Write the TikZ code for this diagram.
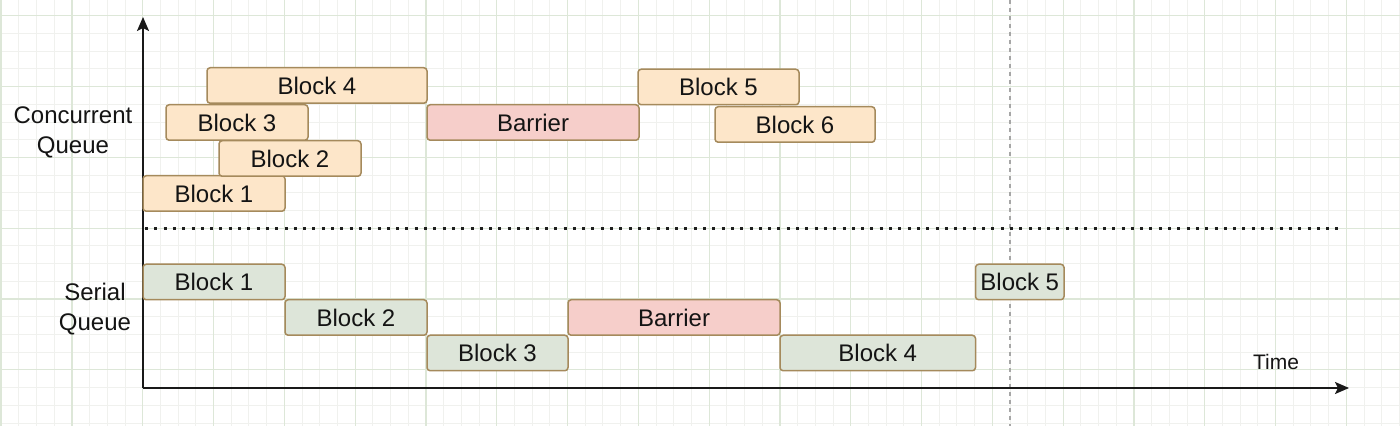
\documentclass[tikz,border=0pt]{standalone}
\usepackage{fontspec}
\setmainfont{Liberation Sans}
\usepackage{tikz}
\usetikzlibrary{arrows.meta,positioning}

\definecolor{gridmajor}{HTML}{DDE7D8}
\definecolor{gridminor}{HTML}{F0F1EE}
\definecolor{boxline}{HTML}{A58A5C}
\definecolor{orangefill}{HTML}{FDE6C9}
\definecolor{pinkfill}{HTML}{F6CECA}
\definecolor{greenfill}{HTML}{DDE5D9}

\tikzset{
  blk/.style={draw=boxline, line width=0.75pt, rounded corners=1.6pt, inner sep=0pt,
    minimum height=17.75pt, font=\fontsize{12}{14}\selectfont, text=black!92},
  cblk/.style={blk, fill=orangefill},
  bblk/.style={blk, fill=pinkfill},
  sblk/.style={blk, fill=greenfill},
  axis/.style={line width=1pt, black!90, -{Stealth[length=7pt,width=6pt,inset=1.5pt]}},
  qlabel/.style={align=center, font=\fontsize{12}{15}\selectfont, text=black!92}
}

\begin{document}
\begin{tikzpicture}[x=0.5pt,y=-0.5pt]
\useasboundingbox (0,0) rectangle (1400,426);
\fill[white] (0,0) rectangle (1400,426);
% grid
\foreach \i in {-8,...,71} \draw[gridminor, line width=0.5pt] ({142.7+17.7*\i},0) -- ({142.7+17.7*\i},426);
\foreach \j in {-12,...,11} \draw[gridminor, line width=0.5pt] (0,{228.3+17.7*\j}) -- (1400,{228.3+17.7*\j});
\foreach \i in {-2,...,17} \draw[gridmajor, line width=0.6pt] ({142.7+70.8*\i},0) -- ({142.7+70.8*\i},426);
\foreach \j in {-3,...,2} \draw[gridmajor, line width=0.6pt] (0,{228.3+70.8*\j}) -- (1400,{228.3+70.8*\j});
\draw[black!35, line width=0.6pt, dash pattern=on 2pt off 2pt] (1010,0) -- (1010,426);

% axes
\coordinate (o) at (143,388);
\coordinate (ytop) at (143,17);
\coordinate (xend) at (1349,388);
\draw[axis] (o) -- (ytop);
\draw[axis] (o) -- (xend);
\node[font=\fontsize{10.5}{12}\selectfont, text=black!92] (time) at (1276,362) {Time};

% divider
\coordinate (dl) at (145,228.5);
\coordinate (dr) at (1340,228.5);
\draw[black!88, line width=1.5pt, dash pattern=on 1.5pt off 3.15pt] (dl) -- (dr);

% queue labels
\node[qlabel] (conc) at (73,132) {Concurrent\\Queue};
\node[qlabel] (serial) at (95,309) {Serial\\Queue};

% concurrent queue
\node[cblk, minimum width=71pt] (c1) at (214,193.5) {Block 1};
\node[cblk, minimum width=71pt] (c2) at (290,158.5) {Block 2};
\node[cblk, minimum width=71pt] (c3) at (237,122.5) {Block 3};
\node[cblk, minimum width=110pt] (c4) at (317,85.5) {Block 4};
\node[bblk, minimum width=106pt] (cbar) at (533,122.5) {Barrier};
\node[cblk, minimum width=80.5pt] (c5) at (718.5,87) {Block 5};
\node[cblk, minimum width=80pt] (c6) at (795,124.5) {Block 6};

% serial queue
\node[sblk, minimum width=71pt] (s1) at (214,282) {Block 1};
\node[sblk, minimum width=71pt] (s2) at (356,317.5) {Block 2};
\node[sblk, minimum width=70.5pt] (s3) at (497.5,353) {Block 3};
\node[bblk, minimum width=106pt] (sbar) at (674,317.5) {Barrier};
\node[sblk, minimum width=97.75pt] (s4) at (877.75,353) {Block 4};
\node[sblk, minimum width=44.25pt] (s5) at (1019.75,282) {Block 5};
\end{tikzpicture}
\end{document}
